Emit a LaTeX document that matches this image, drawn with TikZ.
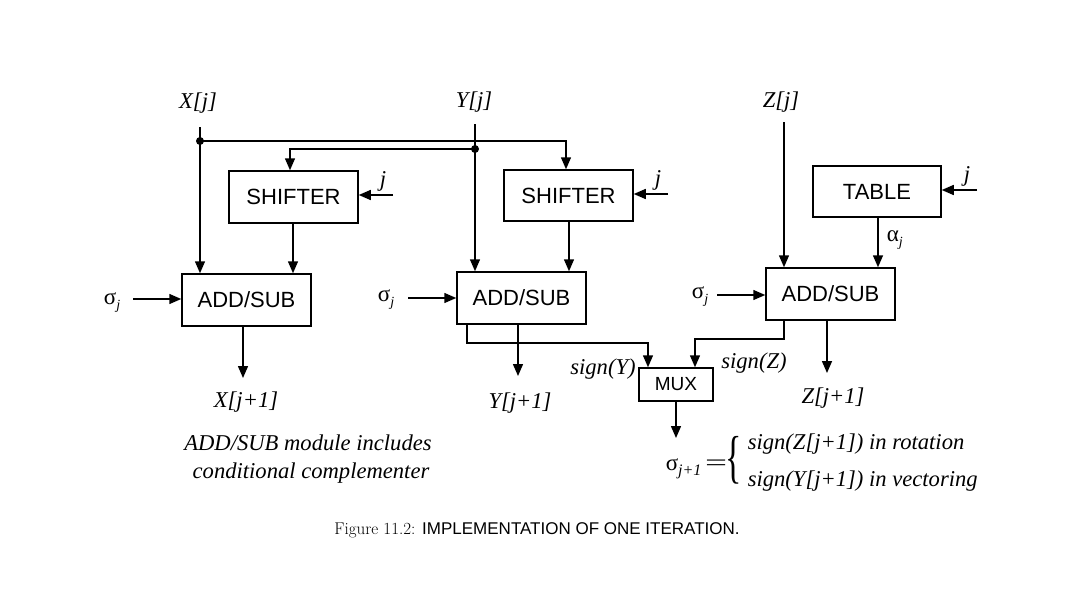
\documentclass[tikz,border=0pt]{standalone}
\usepackage{fontspec}
\usepackage{graphicx}
\newfontfamily\hel{Liberation Sans}
\newfontfamily\tms{Liberation Serif}
\usetikzlibrary{arrows.meta,calc}
\newcommand{\sigj}{{\tms σ}\raisebox{-5pt}{\tms\itshape\fontsize{14}{14}\selectfont j}}
\begin{document}
\begin{tikzpicture}[x=1pt,y=-1pt,line width=1.5pt,
  box/.style={draw,line width=1.5pt,inner sep=0pt,font=\hel\fontsize{22}{22}\selectfont},
  arr/.style={-{Triangle[length=12pt,width=10pt]}},
  lab/.style={font=\tms\itshape\fontsize{22.6}{24}\selectfont,inner sep=0pt},
  sig/.style={font=\tms\fontsize{23}{24}\selectfont,inner sep=0pt},
  dot/.style={circle,fill,inner sep=0pt,minimum size=8pt}]
\fill[white] (0,0) rectangle (1085,610);
\useasboundingbox (0,0) rectangle (1085,610);

% boxes
\node[box,minimum width=129pt,minimum height=52pt] (sh1) at (293.5,197) {SHIFTER};
\node[box,minimum width=129pt,minimum height=52pt] (as1) at (246.5,300) {ADD/SUB};
\node[box,minimum width=129pt,minimum height=51pt] (sh2) at (568.5,195.5) {SHIFTER};
\node[box,minimum width=129pt,minimum height=52pt] (as2) at (521.5,298) {ADD/SUB};
\node[box,minimum width=128pt,minimum height=51pt] (tab) at (877,191.5) {TABLE};
\node[box,minimum width=129pt,minimum height=52pt] (as3) at (830.5,294) {ADD/SUB};
\node[box,minimum width=74pt,minimum height=33pt,font=\hel\fontsize{19}{19}\selectfont] (mux) at (676,384.5) {MUX};

% top labels
\node[lab,anchor=base] (xl) at (198,109) {X[j]};
\node[lab,anchor=base] (yl) at (474,107) {Y[j]};
\node[lab,anchor=base] (zl) at (781,107) {Z[j]};

% X input
\coordinate (xt) at (200,127);
\draw[arr] (xt) -- (xt |- as1.north);
\node[dot] (d1) at (200,141) {};
\draw[arr] (d1.center) -| ([xshift=-2.5pt]sh2.north);

% Y input
\coordinate (yt) at (475,124);
\draw[arr] (yt) -- (yt |- as2.north);
\node[dot] (d2) at (475,149) {};
\draw[arr] (d2.center) -| ([xshift=-3.5pt]sh1.north);

% Z input
\coordinate (zt) at (784,122);
\draw[arr] (zt) -- (zt |- as3.north);

% j inputs
\coordinate (j1) at (393,195);
\draw[arr] (j1) -- (j1 -| sh1.east);
\node[lab] (jl1) at (383,181) {j};
\coordinate (j2) at (668,194);
\draw[arr] (j2) -- (j2 -| sh2.east);
\node[lab] (jl2) at (658,180) {j};
\coordinate (j3) at (977,190);
\draw[arr] (j3) -- (j3 -| tab.east);
\node[lab] (jl3) at (967,176) {j};

% shifter / table to add-sub
\draw[arr] ([xshift=-0.5pt]sh1.south) -- ([xshift=-0.5pt]sh1.south |- as1.north);
\draw[arr] ([xshift=0.5pt]sh2.south) -- ([xshift=0.5pt]sh2.south |- as2.north);
\draw[arr] ([xshift=1pt]tab.south) -- ([xshift=1pt]tab.south |- as3.north);
\node[sig,anchor=west] (al) at (886,240) {α\raisebox{-5pt}{\itshape\fontsize{14}{14}\selectfont j}};

% sigma inputs
\node[sig] (s1) at (112,303) {\sigj};
\coordinate (s1e) at (133,299);
\draw[arr] (s1e) -- (s1e -| as1.west);
\node[sig] (s2) at (386,300) {\sigj};
\coordinate (s2e) at (408,298);
\draw[arr] (s2e) -- (s2e -| as2.west);
\node[sig] (s3) at (700,297) {\sigj};
\coordinate (s3e) at (717,295);
\draw[arr] (s3e) -- (s3e -| as3.west);

% outputs
\coordinate (o1) at (243,378);
\draw[arr] (o1 |- as1.south) -- (o1);
\node[lab,anchor=base] (xo) at (246,407) {X[j+1]};
\coordinate (o2) at (518,376);
\draw[arr] (o2 |- as2.south) -- (o2);
\node[lab,anchor=base] (yo) at (520,408) {Y[j+1]};
\coordinate (o3) at (827,373);
\draw[arr] (o3 |- as3.south) -- (o3);
\node[lab,anchor=base] (zo) at (833,403) {Z[j+1]};

% signs to mux
\draw[arr] ([xshift=-54.5pt]as2.south) -- ++(0,18) -| ([xshift=-28pt]mux.north);
\draw[arr] ([xshift=-46.5pt]as3.south) -- ++(0,18) -| ([xshift=19pt]mux.north);
\node[lab,anchor=base] (sy) at (603,374) {sign(Y)};
\node[lab,anchor=base] (sz) at (754,368) {sign(Z)};

% mux output
\coordinate (mo) at (676,438);
\draw[arr] (mux.south) -- (mo);

% equation
\node[sig,anchor=base west] (eq) at (665,470) {σ\raisebox{-5pt}{\itshape\fontsize{16}{16}\selectfont j+1}\,\scalebox{1.7}[1]{=}};
\node[sig] (br) at (734,460) {\scalebox{1}[1.7]{\fontsize{34}{34}\selectfont\{}};
\node[lab,anchor=base west] (r1) at (747,449) {sign(Z[j+1]) in rotation};
\node[lab,anchor=base west] (r2) at (747,486) {sign(Y[j+1]) in vectoring};

% note
\node[lab,anchor=base] (n1) at (308,450) {ADD/SUB module includes};
\node[lab,anchor=base] (n2) at (311,478) {conditional complementer};

% caption
\node[anchor=base,inner sep=0pt,font=\fontsize{17}{18}\selectfont] (cap) at (537,534) {Figure 11.2: {\hel IMPLEMENTATION OF ONE ITERATION.}};
\end{tikzpicture}
\end{document}
